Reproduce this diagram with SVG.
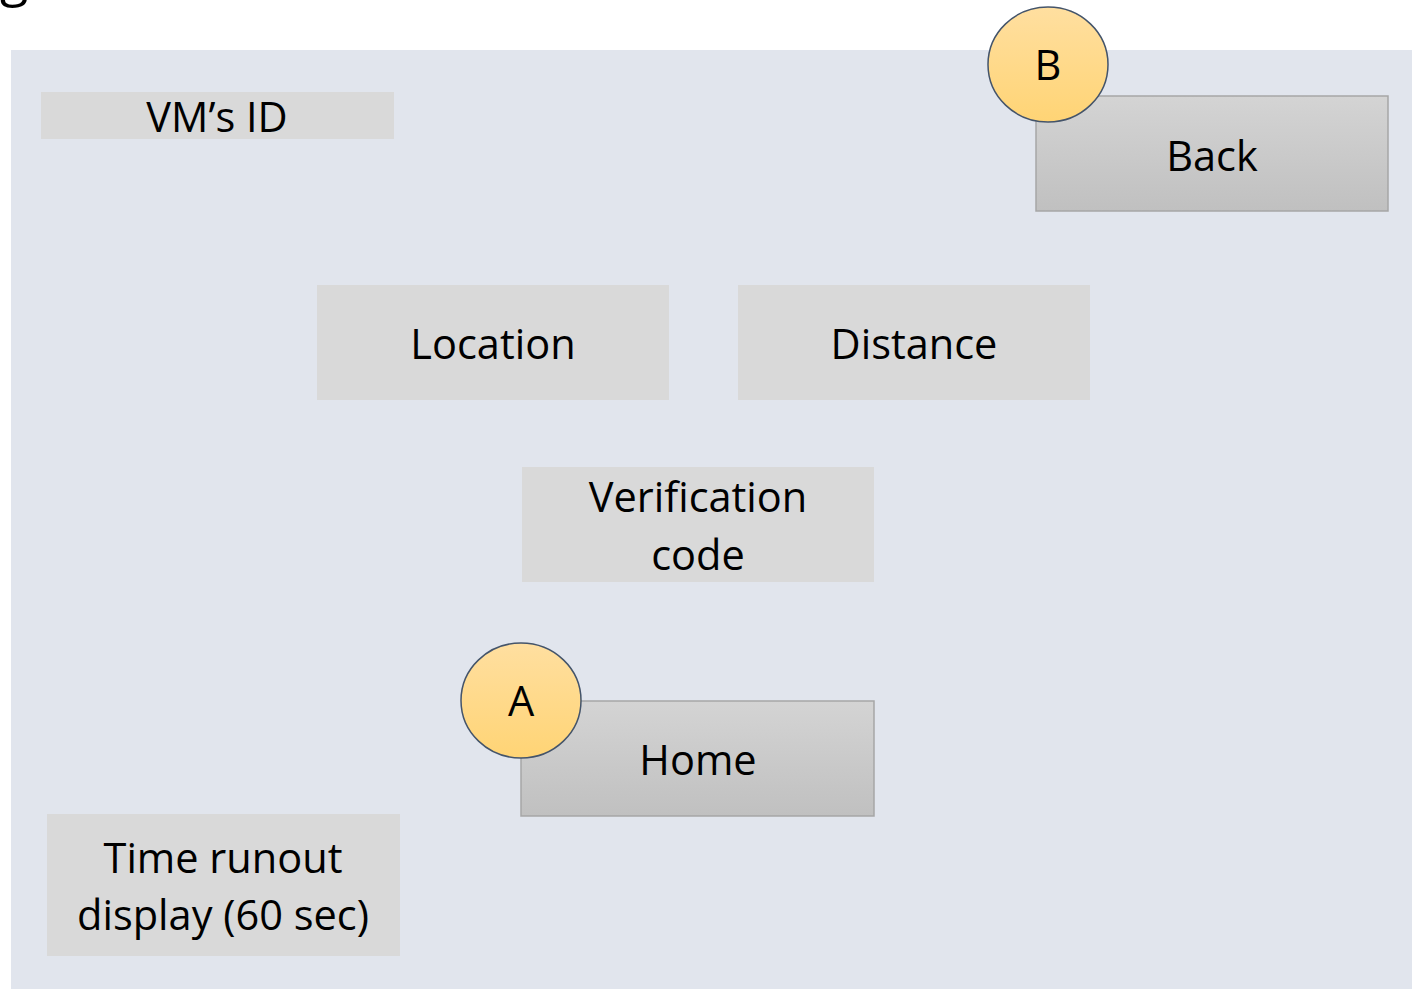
<svg xmlns="http://www.w3.org/2000/svg" width="1412" height="989" viewBox="0 0 1412 989">
  <defs>
    <linearGradient id="btnFill" x1="0" y1="0" x2="0" y2="1">
      <stop offset="0" stop-color="#D4D4D4"/>
      <stop offset="1" stop-color="#C0C0C0"/>
    </linearGradient>
    <linearGradient id="badgeFill" x1="0" y1="0" x2="0" y2="1">
      <stop offset="0" stop-color="#FFDFA0"/>
      <stop offset="1" stop-color="#FFD475"/>
    </linearGradient>
  </defs>
  <style>
    text { font-family: "Open Sans", "Noto Sans", "Liberation Sans", sans-serif; font-size: 41.5px; fill: #000; text-anchor: middle; }
    .field { fill: #D9D9D9; }
    .btn { fill: url(#btnFill); stroke: #A6A6A6; stroke-width: 1.5; }
    .badge { fill: url(#badgeFill); stroke: #44546A; stroke-width: 1.5; }
  </style>

  <rect width="1412" height="989" fill="#FFFFFF"/>
  <!-- descender of a heading letter above the frame -->
  <text x="14" y="-4" style="font-size:52px">g</text>

  <!-- screen panel -->
  <rect x="11" y="50" width="1401" height="939" fill="#E1E5ED"/>

  <g id="vm-id">
    <rect class="field" x="41" y="92" width="353" height="47"/>
    <text x="217" y="132">VM’s ID</text>
  </g>

  <g id="back">
    <rect class="btn" x="1036" y="96" width="352" height="115"/>
    <text x="1212" y="171">Back</text>
  </g>

  <g id="badge-b">
    <ellipse class="badge" cx="1048" cy="64.5" rx="60" ry="57.5"/>
    <text x="1048" y="80">B</text>
  </g>

  <g id="location">
    <rect class="field" x="317" y="285" width="352" height="115"/>
    <text x="493" y="359">Location</text>
  </g>

  <g id="distance">
    <rect class="field" x="738" y="285" width="352" height="115"/>
    <text x="914" y="359">Distance</text>
  </g>

  <g id="verification-code">
    <rect class="field" x="522" y="467" width="352" height="115"/>
    <text x="698" y="512">Verification</text>
    <text x="698" y="570">code</text>
  </g>

  <g id="home">
    <rect class="btn" x="521" y="701" width="353" height="115"/>
    <text x="698" y="775">Home</text>
  </g>

  <g id="badge-a">
    <ellipse class="badge" cx="521" cy="700.5" rx="60" ry="57.5"/>
    <text x="521" y="716">A</text>
  </g>

  <g id="time-runout">
    <rect class="field" x="47" y="814" width="353" height="142"/>
    <text x="223" y="873">Time runout</text>
    <text x="223" y="930">display (60 sec)</text>
  </g>

  <g id="connectors"></g>
</svg>
